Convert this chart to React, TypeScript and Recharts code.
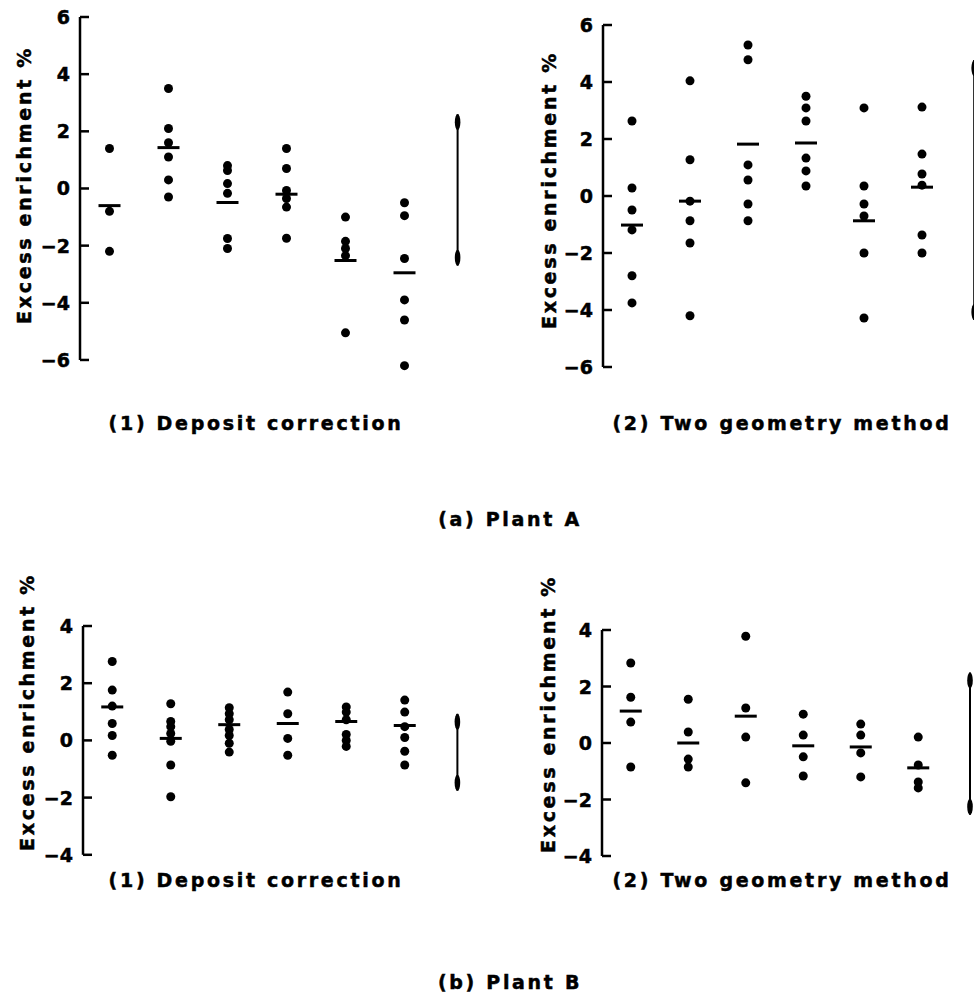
import React from 'react';
import { ScatterChart, Scatter, XAxis, YAxis, ReferenceLine } from 'recharts';

const FONT = '"DejaVu Sans", "Liberation Sans", Arial, sans-serif';

// Plant A, (1) deposit correction
const aDepositPoints = [
  [1.4, -0.8, -2.2],
  [3.5, 2.1, 1.6, 1.1, 0.3, -0.3],
  [0.8, 0.63, 0.17, -0.17, -1.75, -2.1],
  [1.4, 0.7, -0.07, -0.35, -0.65, -1.74],
  [-1.0, -1.85, -2.1, -2.35, -5.05],
  [-0.5, -0.95, -2.45, -3.9, -4.6, -6.2],
];
const aDepositMeans = [-0.6, 1.43, -0.49, -0.2, -2.52, -2.95];
const aDepositRange = [-2.7, 2.6];

// Plant A, (2) two geometry method
const aGeometryPoints = [
  [2.63, 0.28, -0.49, -1.19, -2.8, -3.75],
  [4.04, 1.27, -0.18, -0.87, -1.65, -4.2],
  [5.3, 4.78, 1.09, 0.56, -0.28, -0.87],
  [3.5, 3.09, 2.63, 1.33, 0.88, 0.35],
  [3.09, 0.35, -0.28, -0.7, -2.0, -4.28],
  [3.12, 1.47, 0.77, 0.38, -1.37, -2.0],
];
const aGeometryMeans = [-1.02, -0.18, 1.82, 1.86, -0.87, 0.31];
const aGeometryRange = [-4.35, 4.77];

// Plant B, (1) deposit correction
const bDepositPoints = [
  [2.76, 1.76, 1.2, 0.59, 0.17, -0.52],
  [1.28, 0.66, 0.48, 0.24, -0.03, -0.86, -1.97],
  [1.14, 0.93, 0.72, 0.38, 0.17, -0.1, -0.41],
  [1.69, 0.93, 0.07, -0.52],
  [1.17, 0.99, 0.72, 0.21, 0, -0.21],
  [1.41, 0.99, 0.48, 0.1, -0.38, -0.86],
];
const bDepositMeans = [1.17, 0.07, 0.55, 0.59, 0.66, 0.52];
const bDepositRange = [-1.76, 0.93];

// Plant B, (2) two geometry method
const bGeometryPoints = [
  [2.83, 1.62, 0.74, -0.85],
  [1.55, 0.39, -0.57, -0.85],
  [3.78, 1.24, 0.21, -1.41],
  [1.02, 0.28, -0.49, -1.17],
  [0.67, 0.28, -0.35, -1.2],
  [0.21, -0.78, -1.38, -1.59],
];
const bGeometryMeans = [1.13, 0, 0.95, -0.1, -0.14, -0.88];
const bGeometryRange = [-2.54, 2.5];

const plantATicks = [-6, -4, -2, 0, 2, 4, 6];
const plantBTicks = [-4, -2, 0, 2, 4];

const Y_LABEL = 'Excess enrichment %';
const SUB_TITLES = ['(1) Deposit correction', '(2) Two geometry method'];
const PLANT_TITLES = ['(a) Plant A', '(b) Plant B'];

const RANGE_X = 6.4;

const dot = (p: any) => <circle cx={p.cx} cy={p.cy} r={4.5} fill="#000" />;
const meanBar = (p: any) => (
  <line x1={p.cx - 11} x2={p.cx + 11} y1={p.cy} y2={p.cy} stroke="#000" strokeWidth={3} />
);
const rangeEnd = (p: any) => (
  <ellipse cx={p.cx} cy={p.cy + (p.payload.end === 'top' ? 8 : -8)} rx={2.8} ry={8} fill="#000" />
);

const tickLabel = (v: number) => (v < 0 ? '\u2212' + Math.abs(v) : String(v));

function AxisTick(props: any) {
  const { x, y, payload } = props;
  return (
    <g>
      <line x1={x} x2={x + 9} y1={y} y2={y} stroke="#000" strokeWidth={2.5} />
      <text x={x - 10} y={y} dy={7} textAnchor="end" fontFamily={FONT} fontWeight="bold" fontSize={19}
        fill="#000" stroke="#000" strokeWidth={0.5}>
        {tickLabel(payload.value)}
      </text>
    </g>
  );
}

interface PanelProps {
  points: number[][];
  means: number[];
  range: number[];
  ticks: number[];
  left: number;
  top: number;
  axisX: number;
  unit: number;
  topTickY: number;
  ppu: number;
}

function Panel({ points, means, range, ticks, left, top, axisX, unit, topTickY, ppu }: PanelProps) {
  const max = ticks[ticks.length - 1];
  const dots = points.flatMap((col, i) => col.map(y => ({ x: i + 0.5, y })));
  const meanData = means.map((y, i) => ({ x: i + 0.5, y }));
  const rangeData = [
    { x: RANGE_X, y: range[1], end: 'top' },
    { x: RANGE_X, y: range[0], end: 'bottom' },
  ];
  const yAxisW = axisX - left;
  const plotH = (2 * max + 1) * ppu;
  const mTop = topTickY - 0.5 * ppu - top;
  const width = yAxisW + 7 * unit;
  const height = mTop + plotH + 10;

  return (
    <div style={{ position: 'absolute', left, top }}>
      <ScatterChart width={width} height={height} margin={{ top: mTop, right: 0, bottom: 10, left: 0 }}>
        <XAxis type="number" dataKey="x" domain={[0, 7]} hide />
        <YAxis
          type="number"
          dataKey="y"
          domain={[-max - 0.5, max + 0.5]}
          ticks={ticks}
          interval={0}
          width={yAxisW}
          axisLine={false}
          tickLine={false}
          tickSize={0}
          tickMargin={0}
          tick={<AxisTick />}
        />
        <ReferenceLine
          segment={[{ x: 0, y: -max }, { x: 0, y: max }]}
          stroke="#000"
          strokeWidth={2.5}
          ifOverflow="visible"
        />
        <Scatter data={dots} shape={dot} isAnimationActive={false} />
        <Scatter data={meanData} shape={meanBar} isAnimationActive={false} />
        <Scatter
          data={rangeData}
          shape={rangeEnd}
          line={{ stroke: '#000', strokeWidth: 2 }}
          isAnimationActive={false}
        />
      </ScatterChart>
    </div>
  );
}

const textStyle = {
  fontFamily: FONT,
  fontWeight: 'bold' as const,
  fontSize: 19,
  letterSpacing: 2.7,
  fill: '#000',
  stroke: '#000',
  strokeWidth: 0.5,
};

export default function App() {
  return (
    <div
      style={{
        position: 'fixed',
        left: 0,
        top: 0,
        width: 974,
        height: 1006,
        overflow: 'hidden',
        background: '#fff',
      }}
    >
      <Panel points={aDepositPoints} means={aDepositMeans} range={aDepositRange} ticks={plantATicks}
        left={0} top={0} axisX={80} unit={59} topTickY={17} ppu={28.58} />
      <Panel points={aGeometryPoints} means={aGeometryMeans} range={aGeometryRange} ticks={plantATicks}
        left={490} top={0} axisX={603} unit={58} topTickY={25} ppu={28.5} />
      <Panel points={bDepositPoints} means={bDepositMeans} range={bDepositRange} ticks={plantBTicks}
        left={0} top={580} axisX={83} unit={58.5} topTickY={626} ppu={28.6} />
      <Panel points={bGeometryPoints} means={bGeometryMeans} range={bGeometryRange} ticks={plantBTicks}
        left={490} top={580} axisX={602} unit={57.5} topTickY={630} ppu={28.25} />

      <svg width={974} height={1006} style={{ position: 'absolute', left: 0, top: 0, pointerEvents: 'none' }}>
        {[
          [31, 185],
          [556, 190],
          [34, 712],
          [555, 714],
        ].map(([x, y], i) => (
          <text key={i} x={x} y={y} textAnchor="middle" transform={`rotate(-90 ${x} ${y})`} style={textStyle}>
            {Y_LABEL}
          </text>
        ))}
        <text x={256} y={430} textAnchor="middle" style={textStyle}>{SUB_TITLES[0]}</text>
        <text x={782} y={430} textAnchor="middle" style={textStyle}>{SUB_TITLES[1]}</text>
        <text x={510} y={526} textAnchor="middle" style={textStyle}>{PLANT_TITLES[0]}</text>
        <text x={256} y={887} textAnchor="middle" style={textStyle}>{SUB_TITLES[0]}</text>
        <text x={782} y={887} textAnchor="middle" style={textStyle}>{SUB_TITLES[1]}</text>
        <text x={510} y={989} textAnchor="middle" style={textStyle}>{PLANT_TITLES[1]}</text>
      </svg>
    </div>
  );
}
